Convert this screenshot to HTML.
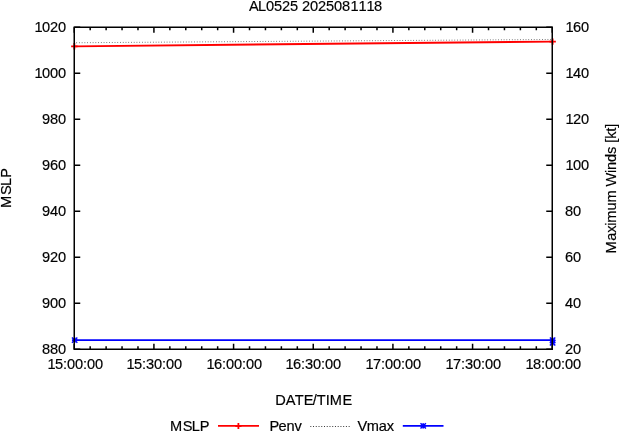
<!DOCTYPE html>
<html><head><meta charset="utf-8"><title>AL0525 2025081118</title>
<style>html,body{margin:0;padding:0;background:#fff}body{width:619px;height:432px;overflow:hidden}</style>
</head><body>
<svg width="619" height="432" viewBox="0 0 619 432" style="display:block">
<rect width="619" height="432" fill="#fff"/>
<g font-family="'Liberation Sans', Arial, Helvetica, sans-serif" font-size="14.6px" fill="#000" stroke="#000" stroke-width="0.18">
<text x="249 258 266 274 282 290 298 302 310 318 326 334 342 350.4 358.4 366.4 374" y="11">AL0525 2025081118</text>
<text x="34.4 42 50 58" y="32">1020</text>
<text x="34.4 42 50 58" y="78">1000</text>
<text x="42 50 58" y="124">980</text>
<text x="42 50 58" y="170">960</text>
<text x="42 50 58" y="216">940</text>
<text x="42 50 58" y="262">920</text>
<text x="42 50 58" y="308">900</text>
<text x="42 50 58" y="354">880</text>
<text x="565.4 573 581" y="32">160</text>
<text x="565.4 573 581" y="78">140</text>
<text x="565.4 573 581" y="124">120</text>
<text x="565.4 573 581" y="170">100</text>
<text x="565 573" y="216">80</text>
<text x="565 573" y="262">60</text>
<text x="565 573" y="308">40</text>
<text x="565 573" y="354">20</text>
<text x="47.4 55 63 67 75 83 87 95" y="369">15:00:00</text>
<text x="126.4 134 142 146 154 162 166 174" y="369">15:30:00</text>
<text x="206.4 214 222 226 234 242 246 254" y="369">16:00:00</text>
<text x="285.4 293 301 305 313 321 325 333" y="369">16:30:00</text>
<text x="365.4 373 381 385 393 401 405 413" y="369">17:00:00</text>
<text x="445.4 453 461 465 473 481 485 493" y="369">17:30:00</text>
<text x="525.4 533 541 545 553 561 565 573" y="369">18:00:00</text>
<text x="275.2 285.8 294.8 303.8 312.8 316.8 325.8 329.8 342.6" y="405.1">DATE/TIME</text>
<text transform="translate(11,188.4) rotate(-90)" x="-19.55 -6.65 2.45 10.55" y="0">MSLP</text>
<text transform="translate(615.6,188.65) rotate(-90)" x="-64.905 -52.075 -44.045 -37.015 -33.985 -21.955 -13.925 -1.895 2.135 15.665 18.695 26.725 34.755 41.785 45.815 49.845 56.875 60.905" y="0">Maximum Winds [kt]</text>
<text x="170 182.8 191.8 199.8" y="430.5">MSLP</text>
<text x="269.5 278.5 286.5 294.5" y="430.5">Penv</text>
<text x="357.5 366.8 378.8 386.8" y="430.5">Vmax</text>
</g>
<path d="M74.25,27.25h6 M552.25,27.25h-6 M74.25,73.25h6 M552.25,73.25h-6 M74.25,119.25h6 M552.25,119.25h-6 M74.25,165.25h6 M552.25,165.25h-6 M74.25,211.25h6 M552.25,211.25h-6 M74.25,257.25h6 M552.25,257.25h-6 M74.25,303.25h6 M552.25,303.25h-6 M74.25,349.25h6 M552.25,349.25h-6 M74.25,349.25v-5.6 M74.25,27.25v5.6 M90.18,349.25v-3 M90.18,27.25v3 M106.12,349.25v-3 M106.12,27.25v3 M122.05,349.25v-3 M122.05,27.25v3 M137.98,349.25v-3 M137.98,27.25v3 M153.92,349.25v-5.6 M153.92,27.25v5.6 M169.85,349.25v-3 M169.85,27.25v3 M185.78,349.25v-3 M185.78,27.25v3 M201.72,349.25v-3 M201.72,27.25v3 M217.65,349.25v-3 M217.65,27.25v3 M233.58,349.25v-5.6 M233.58,27.25v5.6 M249.52,349.25v-3 M249.52,27.25v3 M265.45,349.25v-3 M265.45,27.25v3 M281.38,349.25v-3 M281.38,27.25v3 M297.32,349.25v-3 M297.32,27.25v3 M313.25,349.25v-5.6 M313.25,27.25v5.6 M329.18,349.25v-3 M329.18,27.25v3 M345.12,349.25v-3 M345.12,27.25v3 M361.05,349.25v-3 M361.05,27.25v3 M376.98,349.25v-3 M376.98,27.25v3 M392.92,349.25v-5.6 M392.92,27.25v5.6 M408.85,349.25v-3 M408.85,27.25v3 M424.78,349.25v-3 M424.78,27.25v3 M440.72,349.25v-3 M440.72,27.25v3 M456.65,349.25v-3 M456.65,27.25v3 M472.58,349.25v-5.6 M472.58,27.25v5.6 M488.52,349.25v-3 M488.52,27.25v3 M504.45,349.25v-3 M504.45,27.25v3 M520.38,349.25v-3 M520.38,27.25v3 M536.32,349.25v-3 M536.32,27.25v3 M552.25,349.25v-5.6 M552.25,27.25v5.6" stroke="#000" stroke-width="1.5" fill="none"/>
<path d="M76.25,42.75 L552.25,39.45" stroke="#606060" stroke-width="1" stroke-dasharray="0.8,1.94" fill="none"/>
<path d="M74.25,46.35 L552.25,41.58" stroke="#f00" stroke-width="1.9" fill="none"/>
<path d="M71.14999999999999,46.3h6.4M74.35,43.099999999999994v6.4 M549.4499999999999,41.6h6.4M552.65,38.4v6.4" stroke="#f00" stroke-width="1.8" fill="none"/>
<path d="M74.25,340.1 L552.25,340.1" stroke="#00f" stroke-width="1.9" fill="none"/>
<path d="M71.95,340.1h5.4M74.65,337.40000000000003v5.4" stroke="#00f" stroke-width="1.8" fill="none"/><path d="M71.95,337.40000000000003l5.4,5.4M71.95,342.8l5.4,-5.4" stroke="#00f" stroke-width="1.4" fill="none"/><path d="M549.9,340.1h5.4M552.6,337.40000000000003v5.4" stroke="#00f" stroke-width="1.8" fill="none"/><path d="M549.9,337.40000000000003l5.4,5.4M549.9,342.8l5.4,-5.4" stroke="#00f" stroke-width="1.4" fill="none"/><path d="M549.9,342.7h5.4M552.6,340.0v5.4" stroke="#00f" stroke-width="1.8" fill="none"/><path d="M549.9,340.0l5.4,5.4M549.9,345.4l5.4,-5.4" stroke="#00f" stroke-width="1.4" fill="none"/>
<rect x="74.25" y="27.25" width="478.0" height="322.0" fill="none" stroke="#000" stroke-width="1.5"/>
<path d="M218,425.9H259" stroke="#f00" stroke-width="1.6"/>
<path d="M235.3,426h6.2M238.4,422.9v6.2" stroke="#f00" stroke-width="1.8" fill="none"/>
<path d="M310.3,426.5H350.3" stroke="#3a3a3a" stroke-width="1" stroke-dasharray="1,1.74"/>
<path d="M402.8,425.9H443.5" stroke="#00f" stroke-width="1.6"/>
<path d="M420.5,425.9h5.4M423.2,423.2v5.4" stroke="#00f" stroke-width="1.8" fill="none"/><path d="M420.5,423.2l5.4,5.4M420.5,428.59999999999997l5.4,-5.4" stroke="#00f" stroke-width="1.4" fill="none"/>
</svg>
</body></html>
